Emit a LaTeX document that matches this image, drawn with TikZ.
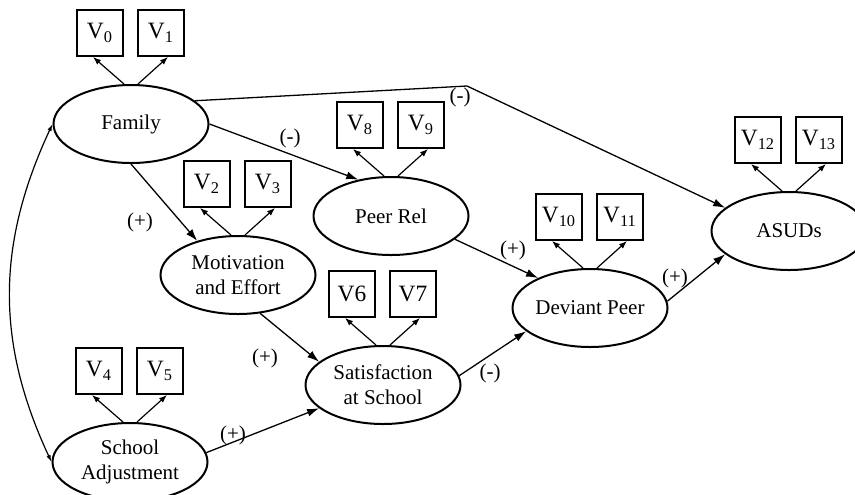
\documentclass[tikz,border=0pt]{standalone}
\usepackage{fontspec}
\setmainfont{Liberation Serif}
\usetikzlibrary{arrows.meta,shapes}
\tikzstyle{latent}=[ellipse,draw,line width=1pt,minimum width=77.5pt,minimum height=39pt,inner sep=0pt,align=center,font=\fontsize{10.5}{12.5}\selectfont]
\tikzstyle{indicator}=[rectangle,draw,line width=1pt,minimum size=23pt,inner sep=0pt,font=\fontsize{11.7}{14}\selectfont]
\tikzstyle{effect} = [draw,line width=0.65pt,-{Latex[length=6pt,width=4pt]}]
\tikzstyle{loading} = [draw,line width=0.6pt,-{Latex[length=4pt,width=3pt]}]
\tikzstyle{cov} = [draw,line width=0.6pt,{Latex[length=3.5pt,width=2.2pt]}-{Latex[length=3.5pt,width=2.2pt]}]
\tikzstyle{signlabel} = [font=\fontsize{10.5}{12.5}\selectfont,inner sep=1pt]

\begin{document}
\begin{tikzpicture}[x=0.5pt,y=-0.5pt]

    \useasboundingbox (0,0) rectangle (855,494);

     \foreach \x/\y/\name/\txt in {131/124/fam/Family, 391/216/peer/Peer Rel, 238/275/mot/{Motivation\\and Effort}, 383/385/sat/{Satisfaction\\at School}, 590/308/dev/Deviant Peer, 789/231/asud/ASUDs, 130/462/adj/{School\\Adjustment}}
        \node[latent] (\name) at (\x,\y) {\txt};

%    indicators, two per factor
    \foreach \name/\i/\j/\a/\b in {fam/0/1/{V\textsubscript{0}}/{V\textsubscript{1}}, mot/2/3/{V\textsubscript{2}}/{V\textsubscript{3}}, adj/4/5/{V\textsubscript{4}}/{V\textsubscript{5}}, sat/6/7/V6/V7, peer/8/9/{V\textsubscript{8}}/{V\textsubscript{9}}, dev/10/11/{V\textsubscript{10}}/{V\textsubscript{11}}, asud/12/13/{V\textsubscript{12}}/{V\textsubscript{13}}}
    {
        \node[indicator] (v\i) at ([shift={(-31,-91)}]\name) {\a};
        \node[indicator] (v\j) at ([shift={(30,-91)}]\name) {\b};
        \path[loading] ([xshift=-3.5pt]\name.north) -- ([xshift=-3.5pt]v\i.south);
        \path[loading] ([xshift=3.5pt]\name.north) -- ([xshift=3.5pt]v\j.south);
    }

    \foreach \source/ \dest in {fam.east/peer.132, fam.south/mot.140, peer.340/dev.150, mot.300/sat.160, adj.7/sat.200, sat.7/dev.200, dev.5/asud.200}
        \path[effect] (\source) -- (\dest);

    \coordinate (bend) at (467,86);
    \path[effect] (fam.20) -- (bend) -- (asud.160);

    \path[cov] (fam.west) to[out=245, in=115] (adj.west);

    \foreach \x/\y/\name/\s in {290/138/sfp/{(-)}, 460/97/sfa/{(-)}, 140/222/sfm/{(+)}, 513/250/spd/{(+)}, 675/278/sda/{(+)}, 265/358/sms/{(+)}, 490/373/ssd/{(-)}, 233/435/sas/{(+)}}
        \node[signlabel] (\name) at (\x,\y) {\s};

\end{tikzpicture}
\end{document}
